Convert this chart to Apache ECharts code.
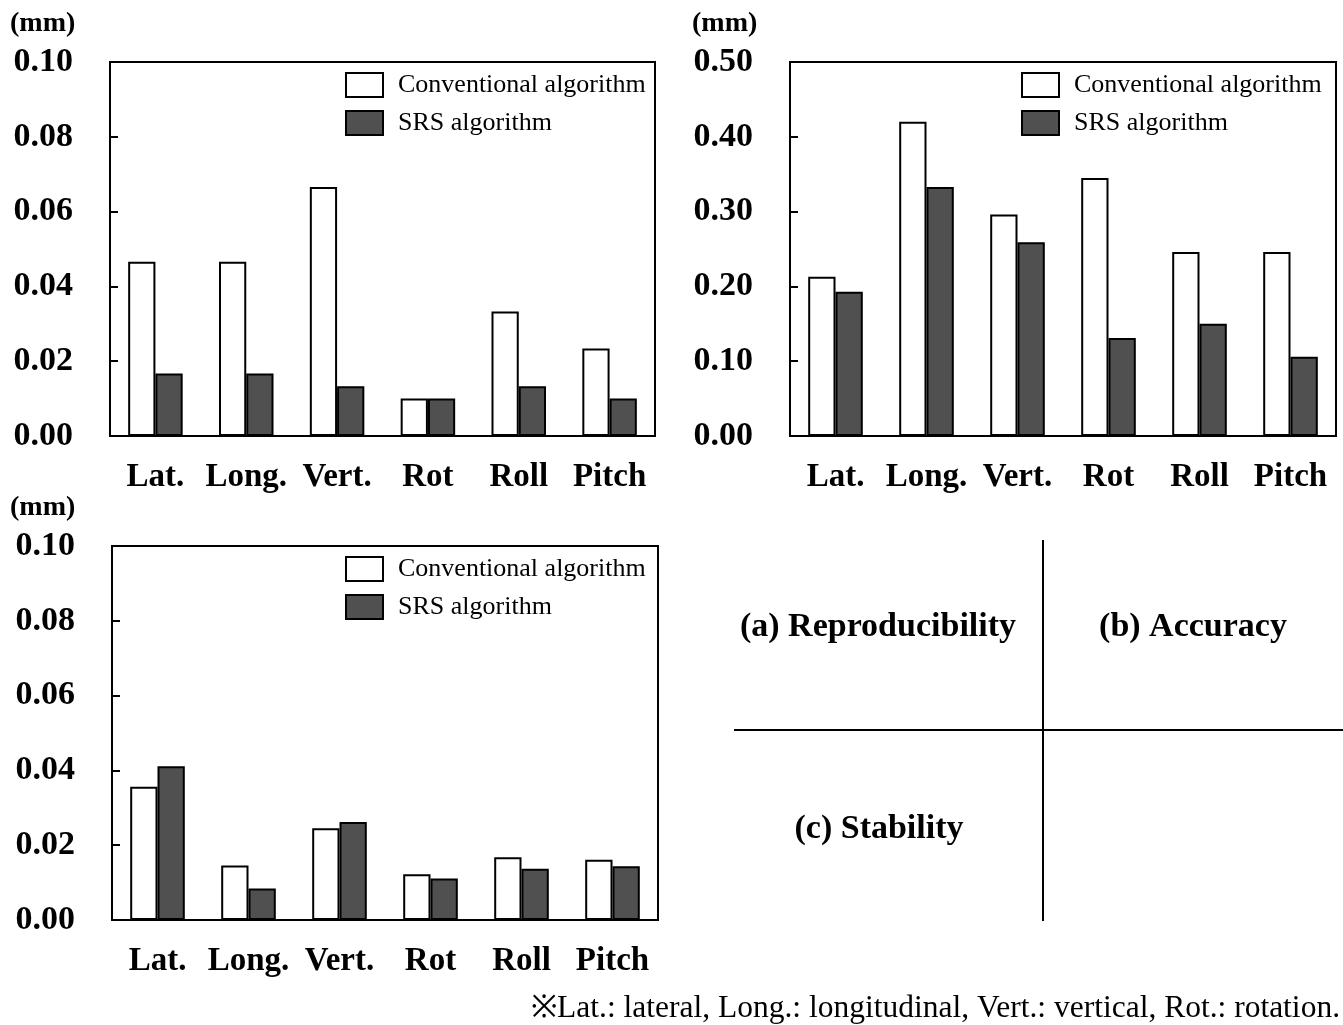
<!DOCTYPE html>
<html>
<head>
<meta charset="utf-8">
<script src="https://cdn.jsdelivr.net/npm/echarts@6/dist/echarts.min.js"></script>
<style>
html,body{margin:0;padding:0;background:#fff;}
#chart{width:1343px;height:1025px;}
</style>
</head>
<body>
<div id="chart"></div>
<script>
const categories = ['Lat.', 'Long.', 'Vert.', 'Rot', 'Roll', 'Pitch'];
const seriesNames = ['Conventional algorithm', 'SRS algorithm'];

// (a) Reproducibility
const reproConv = [0.0466, 0.0466, 0.0666, 0.0100, 0.0333, 0.0234];
const reproSRS  = [0.0167, 0.0167, 0.0133, 0.0100, 0.0133, 0.0100];
// (b) Accuracy
const accConv = [0.213, 0.420, 0.296, 0.345, 0.246, 0.246];
const accSRS  = [0.193, 0.333, 0.259, 0.131, 0.150, 0.106];
// (c) Stability
const stabConv = [0.0356, 0.0146, 0.0245, 0.0122, 0.0168, 0.0161];
const stabSRS  = [0.0411, 0.0084, 0.0262, 0.0111, 0.0137, 0.0144];

const yTicksSmall = { min: 0, max: 0.10, interval: 0.02, decimals: 2 };
const yTicksLarge = { min: 0, max: 0.50, interval: 0.10, decimals: 2 };

const FONT = '"Liberation Serif", "Times New Roman", serif';
const CONV_COLOR = '#ffffff';
const SRS_COLOR = '#505050';

const grids = [
  { left: 110, top: 62, width: 545, height: 374 },
  { left: 790, top: 62, width: 546, height: 374 },
  { left: 112, top: 546, width: 546, height: 374 }
];
const legendLefts = [340, 1016, 340];
const yScales = [yTicksSmall, yTicksLarge, yTicksSmall];
const data = [[reproConv, reproSRS], [accConv, accSRS], [stabConv, stabSRS]];

const option = {
  backgroundColor: '#fff',
  animation: false,
  grid: grids.map(g => Object.assign({
    show: true, borderColor: '#000', borderWidth: 2, backgroundColor: 'transparent', containLabel: false
  }, g)),
  xAxis: grids.map((g, i) => ({
    type: 'category', gridIndex: i, data: categories,
    axisLine: { show: true, lineStyle: { color: '#000', width: 2 } },
    axisTick: { show: false },
    axisLabel: { interval: 0, color: '#000', fontFamily: FONT, fontWeight: 'bold', fontSize: 33, margin: 25 }
  })),
  yAxis: grids.map((g, i) => ({
    type: 'value', gridIndex: i,
    min: yScales[i].min, max: yScales[i].max, interval: yScales[i].interval,
    splitLine: { show: false },
    axisLine: { show: true, lineStyle: { color: '#000', width: 2 } },
    axisTick: { show: true, inside: true, length: 8, lineStyle: { color: '#000', width: 2 } },
    axisLabel: {
      color: '#000', fontFamily: FONT, fontWeight: 'bold', fontSize: 34, margin: 37,
      formatter: v => v.toFixed(yScales[i].decimals)
    }
  })),
  legend: grids.map((g, i) => ({
    data: seriesNames,
    orient: 'vertical',
    left: legendLefts[i],
    top: g.top + 5,
    itemWidth: 37,
    itemHeight: 24,
    itemGap: 12,
    icon: 'rect',
    textStyle: { color: '#000', fontFamily: FONT, fontSize: 26, padding: [4, 0, 0, 10] },
    selectedMode: false
  })),
  series: [],
  graphic: [
    { type: 'text', left: 10, top: 10, style: { text: '(mm)', font: 'bold 28px ' + FONT, fill: '#000' } },
    { type: 'text', left: 692, top: 10, style: { text: '(mm)', font: 'bold 28px ' + FONT, fill: '#000' } },
    { type: 'text', left: 10, top: 494, style: { text: '(mm)', font: 'bold 28px ' + FONT, fill: '#000' } },
    { type: 'line', shape: { x1: 1043, y1: 540, x2: 1043, y2: 921 }, style: { stroke: '#000', lineWidth: 2 } },
    { type: 'line', shape: { x1: 734, y1: 730, x2: 1343, y2: 730 }, style: { stroke: '#000', lineWidth: 2 } },
    { type: 'text', x: 878, y: 627, style: { text: '(a) Reproducibility', font: 'bold 34px ' + FONT, fill: '#000', textAlign: 'center', textVerticalAlign: 'middle' } },
    { type: 'text', x: 1193, y: 627, style: { text: '(b) Accuracy', font: 'bold 34px ' + FONT, fill: '#000', textAlign: 'center', textVerticalAlign: 'middle' } },
    { type: 'text', x: 879, y: 829, style: { text: '(c) Stability', font: 'bold 34px ' + FONT, fill: '#000', textAlign: 'center', textVerticalAlign: 'middle' } },
    { type: 'text', x: 1340, y: 1009, style: { text: '※Lat.: lateral, Long.: longitudinal, Vert.: vertical, Rot.: rotation.', font: '31.5px ' + FONT, fill: '#000', textAlign: 'right', textVerticalAlign: 'middle' } }
  ]
};

data.forEach((pair, i) => {
  pair.forEach((vals, j) => {
    option.series.push({
      type: 'bar',
      name: seriesNames[j],
      xAxisIndex: i,
      yAxisIndex: i,
      data: vals,
      barGap: '0%',
      barCategoryGap: '40%',
      itemStyle: { color: j === 0 ? CONV_COLOR : SRS_COLOR, borderColor: '#000', borderWidth: 2 },
      emphasis: { disabled: true }
    });
  });
});

const chart = echarts.init(document.getElementById('chart'), null, { renderer: 'canvas' });
chart.setOption(option);
</script>
</body>
</html>
